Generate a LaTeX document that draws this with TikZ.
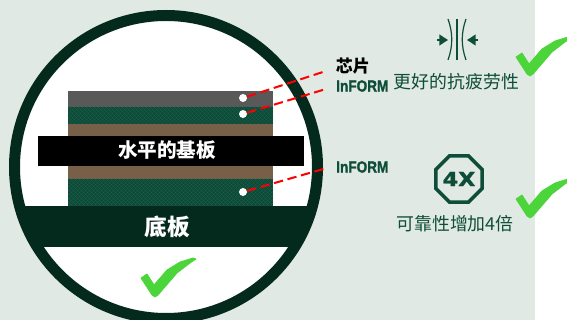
\documentclass[tikz,border=0pt]{standalone}
\usepackage{graphicx}
\usepackage{fontspec}
\usetikzlibrary{shapes.geometric,arrows.meta}
\setmainfont{Noto Sans CJK SC}
\newfontfamily\latinbold[FakeBold=1.6]{Liberation Sans Bold}
\newfontfamily\heavy[FakeBold=1.6]{DejaVu Sans Bold}
\definecolor{pagebg}{HTML}{E1E9E4}
\definecolor{ringdark}{HTML}{04291D}
\definecolor{layergreen}{HTML}{0D4B38}
\definecolor{hatchgreen}{HTML}{1F6350}
\definecolor{layerbrown}{HTML}{776047}
\definecolor{layergray}{HTML}{595959}
\definecolor{labelgreen}{HTML}{0E4D39}
\definecolor{tickgreen}{HTML}{4CD53A}
\tikzset{
  px/.style={x=0.75pt,y=-0.75pt},
  leader/.style={draw=red,line width=1.5pt,dash pattern=on 7pt off 3.5pt},
  pin/.style={circle,fill=white,inner sep=0pt,minimum size=6pt},
  barlabel/.style={text=white,font=\bfseries},
  blacklabel/.style={text=black,font=\bfseries\fontsize{12.8}{13}\selectfont,anchor=west,inner sep=0pt},
  informlabel/.style={text=labelgreen,font=\latinbold\fontsize{12}{12}\selectfont,anchor=west,inner sep=0pt},
  benefit/.style={text=labelgreen,font=\fontsize{13.4}{14}\selectfont,inner sep=0pt},
  icon/.style={draw=labelgreen,line width=0.9pt},
  pressarrow/.style={labelgreen,line width=1.5pt,-{Triangle[length=6.5pt,width=8pt]}},
  pics/tickmark/.style={code={
    \filldraw[tickgreen,line width=0.6pt,line join=round] (0,0) -- (6,-4) -- (13,7) -- (26,-8) -- (39,-16) -- (52,-20) -- (55,-19)
      -- (49,-15) -- (36,-5) -- (17,17) -- (14,19) -- (11,17) -- cycle;
  }}
}
\newcommand{\hatchlayer}[4]{%
  \fill[layergreen] (#1,#2) rectangle (#3,#4);
  \begin{scope}
    \clip (#1,#2) rectangle (#3,#4);
    \foreach \k in {0,4,...,260}{
      \draw[hatchgreen,line width=0.25pt] (#1+\k-30,#4) -- ++(30,-30);
      \draw[hatchgreen,line width=0.25pt] (#1+\k-30,#2) -- ++(30,30);
    }
  \end{scope}
}
\begin{document}
\begin{tikzpicture}[px]
\useasboundingbox (0,0) rectangle (567,320);
\fill[white] (0,0) rectangle (567,320);
\fill[pagebg] (0,0) rectangle (535,320);
\begin{scope}
  \clip (0,0) rectangle (567,320);
  \fill[white] (166,167) circle [radius=151.5*0.75pt];
  \begin{scope}
    \clip (166,167) circle [radius=151.5*0.75pt];
    \fill[ringdark] (0,206) rectangle (340,247);
  \end{scope}
  \draw[ringdark,line width=8.25pt] (166,167) circle [radius=151.5*0.75pt];
\end{scope}
% layers
\fill[layergray] (68,91) rectangle (273,107);
\hatchlayer{68}{107}{273}{124}
\fill[layerbrown] (68,124) rectangle (273,136);
\fill[layerbrown] (68,166) rectangle (273,179);
\hatchlayer{68}{179}{273}{206}
\fill[black] (38,136) rectangle (304,166);
\node[barlabel,font=\bfseries\fontsize{14.7}{15}\selectfont] (bar) at (167,150) {水平的基板};
\node[barlabel,font=\bfseries\fontsize{17}{18}\selectfont] (base) at (167,227) {底板};
% leaders
\node[pin] (p1) at (243,98) {};
\node[pin] (p2) at (243,114) {};
\node[pin] (p3) at (243,192) {};
\coordinate (e1) at (326,71);
\coordinate (e2) at (326,89);
\coordinate (e3) at (327,168);
\draw[leader] (p1) -- (e1);
\draw[leader] (p2) -- (e2);
\draw[leader] (p3) -- (e3);
% labels
\node[blacklabel] (chip) at (335.5,66) {芯片};
\node[informlabel] (inf1) at (336,86) {\scalebox{.85}[1]{InFORM}};
\node[informlabel] (inf2) at (336,167) {\scalebox{.85}[1]{InFORM}};
\node[benefit] (fat) at (456.5,82) {更好的抗疲劳性};
\node[benefit] (rel) at (455,224) {可靠性增加4倍};
% squeeze icon
\draw[icon] (457,19) -- (457,60);
\draw[icon] (448,19) .. controls (453,33) and (453,46) .. (448,60);
\draw[icon] (466,19) .. controls (461,33) and (461,46) .. (466,60);
\draw[pressarrow] (437,40) -- (448,40);
\draw[pressarrow] (478,40) -- (467,40);
% octagon
\node[regular polygon,regular polygon sides=8,draw=labelgreen,line width=2.6pt,
  minimum size=37.5pt,inner sep=0pt,text=labelgreen,
  font=\heavy\fontsize{14.5}{15}\selectfont] (oct) at (459,179) {\scalebox{1.15}[1]{4X}};
% ticks
\pic at (141,278) {tickmark};
\begin{scope}
  \clip (0,0) rectangle (567,320);
  \pic at (516,57) {tickmark};
  \pic at (516,199) {tickmark};
\end{scope}
\end{tikzpicture}
\end{document}
